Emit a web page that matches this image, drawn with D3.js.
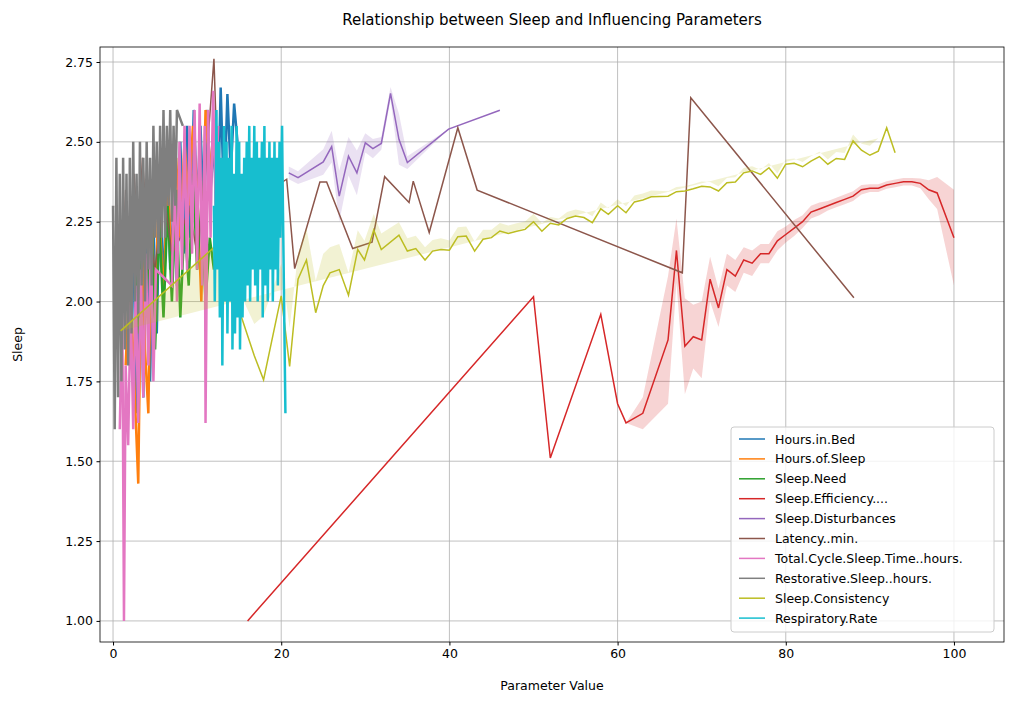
<!DOCTYPE html>
<html lang="en">
<head>
<meta charset="UTF-8">
<script src="https://d3js.org/d3.v7.min.js"></script>
<style>
  body { margin: 0; background: #fff; }
  text { font-family: "DejaVu Sans", sans-serif; }
</style>
</head>
<body>
<script>
// legend order = draw order
const seriesNames = ["Hours.in.Bed", "Hours.of.Sleep", "Sleep.Need", "Sleep.Efficiency....",
  "Sleep.Disturbances", "Latency..min.", "Total.Cycle.Sleep.Time..hours.",
  "Restorative.Sleep..hours.", "Sleep.Consistency", "Respiratory.Rate"];
const colors = ["#1f77b4", "#ff7f0e", "#2ca02c", "#d62728", "#9467bd", "#8c564b",
  "#e377c2", "#7f7f7f", "#bcbd22", "#17becf"];
const xTicks = [0, 20, 40, 60, 80, 100];
const yTicks = [1.00, 1.25, 1.50, 1.75, 2.00, 2.25, 2.50, 2.75];

// [x, y] pairs
const hoursInBed = [[2,1.9],[2.4,2.2],[2.8,1.65],[3.2,2.3],[3.6,1.7],[4,2.35],[4.4,1.75],[4.8,2.25],[5.2,1.9],[5.6,2.4],[6,2.0],[6.4,2.45],[6.8,2.1],[7.2,2.3],[7.6,2.05],[8,2.5],[8.4,2.15],[8.8,2.55],[9.2,2.2],[9.6,2.6],[10,2.3],[10.4,2.55],[10.8,2.25],[11.2,2.6],[11.6,2.35],[12,2.5],[12.4,2.2],[12.8,2.67],[13.2,2.3],[13.6,2.65],[14,2.4],[14.4,2.62],[14.8,2.5]];
const hoursOfSleep = [[1.5,1.8],[2,2.1],[2.6,1.7],[3,1.43],[3.4,2.25],[3.8,1.85],[4.2,1.65],[4.6,2.3],[5,1.9],[5.4,2.35],[6,2.0],[6.5,2.4],[7,2.1],[7.5,2.45],[8,2.2],[8.5,2.5],[9,2.3],[9.5,2.55],[10,2.35],[10.5,2.0],[11,2.6],[11.5,2.4],[12,2.55]];
const sleepNeed = [[2,2.0],[2.5,2.25],[3,1.9],[3.5,2.3],[4,2.0],[4.5,2.35],[5,1.85],[5.5,2.25],[6,1.95],[6.5,2.3],[7,2.0],[7.5,2.35],[8,1.95],[8.5,2.25],[9,2.05],[9.5,2.4],[10,2.1],[10.5,2.3],[11,2.0],[11.5,2.2],[12,2.1]];
const sleepEff = [[16,1.0],[50,2.015],[52,1.51],[58,1.96],[60,1.68],[61,1.62],[63,1.65],[66,1.88],[67,2.16],[68,1.86],[69,1.89],[70,1.88],[71,2.07],[72,1.98],[73,2.1],[74,2.08],[75,2.13],[76,2.12],[77,2.15],[78,2.15],[79,2.19],[80,2.21],[81,2.23],[82,2.25],[83,2.28],[84,2.29],[85,2.30],[86,2.31],[87,2.32],[88,2.33],[89,2.35],[90,2.355],[91,2.355],[92,2.365],[93,2.37],[94,2.375],[95,2.375],[96,2.37],[97,2.35],[98,2.34],[100,2.2]];
const sleepEffCi = [0,0,0,0,0,0,0.05,0.2,0.1,0.15,0.1,0.12,0.07,0.06,0.05,0.05,0.04,0.04,0.03,0.03,0.03,0.025,0.025,0.02,0.02,0.02,0.015,0.015,0.015,0.015,0.015,0.012,0.012,0.012,0.012,0.012,0.012,0.015,0.03,0.05,0.15];
const disturb = [[20.9,2.403],[22,2.388],[25,2.437],[26,2.485],[26.9,2.33],[28,2.455],[29,2.403],[30,2.497],[30.9,2.479],[31.9,2.495],[33,2.652],[34,2.508],[35,2.435],[39.9,2.54],[46,2.599]];
const disturbCi = [0.02,0.02,0.04,0.05,0.08,0.06,0.07,0.03,0.03,0.02,0.02,0.08,0.02,0,0];
const latency = [[0.3,2.3],[1,2.0],[1.5,2.35],[2,2.1],[2.5,2.4],[3,2.2],[3.5,2.45],[4,2.25],[5,2.1],[6,2.35],[7,2.15],[8,2.2],[9,2.3],[10,2.15],[11,2.4],[12,2.76],[12.5,2.35],[13,2.25],[20.65,2.383],[21.6,2.103],[24.6,2.374],[25.4,2.374],[28.5,2.166],[30.8,2.186],[32.3,2.391],[35.2,2.31],[35.7,2.377],[37.6,2.216],[41,2.544],[43.3,2.349],[67.7,2.09],[68.7,2.638],[88.1,2.012]];
const totalCycle = [[0.8,1.6],[1.1,2.0],[1.3,1.0],[1.5,1.8],[1.8,1.55],[2.1,2.0],[2.4,1.6],[2.7,2.05],[3,1.62],[3.3,2.1],[3.6,1.7],[3.9,2.15],[4.2,1.8],[4.5,2.2],[4.8,1.75],[5.1,2.1],[7,2.05],[7.3,2.45],[7.6,2.0],[7.9,2.5],[8.2,2.1],[8.5,2.55],[8.8,2.1],[9.1,2.55],[9.4,2.15],[9.7,2.6],[10,2.1],[10.3,2.62],[10.6,2.05],[10.9,2.55],[11,1.62],[11.3,2.6],[11.6,2.2],[11.9,2.66],[12.2,2.3],[12.5,2.55]];
const restorative = [[0,2.3],[0.2,1.6],[0.4,2.45],[0.6,1.7],[0.8,2.4],[1,1.75],[1.2,2.45],[1.4,1.85],[1.6,2.4],[1.8,1.8],[2,2.45],[2.2,1.9],[2.4,2.5],[2.6,2.0],[2.8,2.4],[3,1.95],[3.2,2.5],[3.4,2.05],[3.6,2.45],[3.8,2.0],[4,2.5],[4.2,2.1],[4.4,2.45],[4.6,2.05],[4.8,2.55],[5,2.2],[5.2,2.5],[5.4,2.15],[5.6,2.55],[5.8,2.2],[6,2.6],[6.2,2.2],[6.4,2.55],[6.6,2.3],[6.8,2.6],[7,2.25],[7.2,2.55],[7.4,2.3],[7.6,2.6],[8.3,2.55]];
const consistency = [[0.9,1.908],[12.4,2.179],[16.8,1.83],[17.9,1.755],[20,2.018],[21,1.797],[22,2.07],[23,2.13],[24.1,1.965],[25,2.05],[25.8,2.09],[26.9,2.1],[28,2.02],[29.1,2.163],[29.9,2.13],[31,2.224],[31.9,2.163],[34,2.208],[35,2.158],[36,2.166],[37.1,2.13],[38,2.158],[39,2.163],[40,2.161],[41,2.203],[42,2.205],[43,2.158],[44,2.195],[45,2.2],[46,2.221],[47,2.213],[48,2.22],[49,2.226],[50,2.25],[51,2.22],[52,2.245],[53,2.24],[54,2.26],[55,2.268],[56,2.263],[57,2.247],[58,2.29],[58.9,2.273],[60,2.3],[61,2.278],[62,2.312],[63,2.318],[64,2.328],[66,2.33],[67,2.344],[68,2.346],[69,2.353],[70,2.361],[71,2.359],[72,2.346],[73,2.372],[74,2.374],[75,2.403],[76,2.409],[77,2.398],[78,2.419],[79,2.386],[80,2.43],[81,2.433],[82,2.422],[83,2.44],[84,2.454],[85,2.43],[86,2.448],[87,2.445],[88,2.503],[89,2.474],[90,2.458],[91,2.471],[92,2.544],[93,2.466]];
const consistencyCi = [0,0,0.1,0.2,0.1,0.12,0.08,0.1,0.1,0.1,0.08,0.08,0.07,0.06,0.06,0.05,0.05,0.04,0.04,0.04,0.04,0.035,0.035,0.03,0.03,0.03,0.03,0.03,0.025,0.025,0.025,0.025,0.025,0.025,0.025,0.02,0.02,0.02,0.02,0.02,0.02,0.02,0.02,0.02,0.02,0.02,0.02,0.02,0.015,0.015,0.015,0.015,0.015,0.015,0.015,0.015,0.015,0.015,0.015,0.015,0.015,0.015,0.015,0.015,0.015,0.015,0.015,0.015,0.02,0.02,0.02,0.02,0.03,0.04];
const respRate = [[12,2.3],[12.1,2.0],[12.3,2.6],[12.4,2.1],[12.6,2.5],[12.7,1.95],[12.9,2.45],[13,1.8],[13.2,2.55],[13.3,2.0],[13.5,2.5],[13.6,1.9],[13.8,2.45],[13.9,2.0],[14.1,2.55],[14.2,1.85],[14.4,2.4],[14.5,1.9],[14.7,2.55],[14.8,1.95],[15,2.5],[15.1,1.85],[15.3,2.4],[15.4,1.95],[15.6,2.45],[15.7,2.0],[15.9,2.5],[16,2.05],[16.2,2.55],[16.3,2.0],[16.5,2.45],[16.6,2.1],[16.8,2.55],[16.9,2.05],[17.1,2.5],[17.2,2.0],[17.4,2.45],[17.5,2.1],[17.7,2.5],[17.8,1.95],[18,2.55],[18.1,2.05],[18.3,2.45],[18.4,2.0],[18.6,2.5],[18.7,2.1],[18.9,2.45],[19,2.0],[19.2,2.5],[19.3,2.1],[19.5,2.45],[19.6,2.05],[19.8,2.5],[19.9,2.2],[20.1,2.55],[20.2,2.3],[20.5,1.65]];

const allData = [hoursInBed, hoursOfSleep, sleepNeed, sleepEff, disturb, latency,
  totalCycle, restorative, consistency, respRate];
const bands = { 3: sleepEffCi, 4: disturbCi, 8: consistencyCi };
const noisy = [0, 1, 2, 6, 7, 9];

const W = 1010, H = 701;
const margin = { top: 47, right: 6, bottom: 59, left: 100 };
const width = W - margin.left - margin.right;
const height = H - margin.top - margin.bottom;

const svg = d3.select("body").append("svg").attr("width", W).attr("height", H);
const g = svg.append("g").attr("transform", `translate(${margin.left},${margin.top})`);

const x = d3.scaleLinear().domain([-1.55, 105.95]).range([0, width]);
const y = d3.scaleLinear().domain([0.934, 2.797]).range([height, 0]);

// grid
g.selectAll(".gx").data(xTicks).enter().append("line")
  .attr("x1", d => x(d)).attr("x2", d => x(d)).attr("y1", 0).attr("y2", height)
  .attr("stroke", "#b0b0b0").attr("stroke-width", 0.8);
g.selectAll(".gy").data(yTicks).enter().append("line")
  .attr("y1", d => y(d)).attr("y2", d => y(d)).attr("x1", 0).attr("x2", width)
  .attr("stroke", "#b0b0b0").attr("stroke-width", 0.8);

const line = d3.line().x(d => x(d[0])).y(d => y(d[1]));
const area = d3.area().x(d => x(d[0])).y0(d => y(d[1] - d[2])).y1(d => y(d[1] + d[2]));

allData.forEach((data, i) => {
  if (bands[i]) {
    const ci = bands[i];
    g.append("path")
      .attr("d", area(data.map((d, j) => [d[0], d[1], ci[j]])))
      .attr("fill", colors[i]).attr("opacity", 0.2);
  }
  g.append("path").attr("d", line(data))
    .attr("fill", "none").attr("stroke", colors[i])
    .attr("stroke-width", noisy.includes(i) ? 2.5 : 1.5);
});

// axes
const xAxis = g.append("g").attr("transform", `translate(0,${height})`)
  .call(d3.axisBottom(x).tickValues(xTicks).tickSize(3.5).tickPadding(3.5));
const yAxis = g.append("g")
  .call(d3.axisLeft(y).tickValues(yTicks).tickFormat(d3.format(".2f")).tickSize(3.5).tickPadding(3.5));
[xAxis, yAxis].forEach(a => {
  a.select(".domain").remove();
  a.selectAll("text").attr("font-size", 12.5).attr("font-family", "DejaVu Sans").attr("fill", "#000");
});
g.append("rect").attr("width", width).attr("height", height)
  .attr("fill", "none").attr("stroke", "#000").attr("stroke-width", 0.8);

svg.append("text").attr("x", margin.left + width / 2).attr("y", 25)
  .attr("text-anchor", "middle").attr("font-size", 15).text("Relationship between Sleep and Influencing Parameters");
svg.append("text").attr("x", margin.left + width / 2).attr("y", 690)
  .attr("text-anchor", "middle").attr("font-size", 12.5).text("Parameter Value");
svg.append("text").attr("transform", `translate(22,${margin.top + height / 2}) rotate(-90)`)
  .attr("text-anchor", "middle").attr("font-size", 12.5).text("Sleep");

// legend
const leg = svg.append("g").attr("transform", "translate(731,427)");
leg.append("rect").attr("width", 263).attr("height", 205).attr("rx", 3)
  .attr("fill", "#fff").attr("fill-opacity", 0.8).attr("stroke", "#ccc");
seriesNames.forEach((n, i) => {
  const row = leg.append("g").attr("transform", `translate(0,${12 + i * 19.9})`);
  row.append("line").attr("x1", 8).attr("x2", 34).attr("stroke", colors[i]).attr("stroke-width", 1.5);
  row.append("text").attr("x", 44).attr("y", 4.5).attr("font-size", 12.5).text(n);
});
</script>
</body>
</html>
